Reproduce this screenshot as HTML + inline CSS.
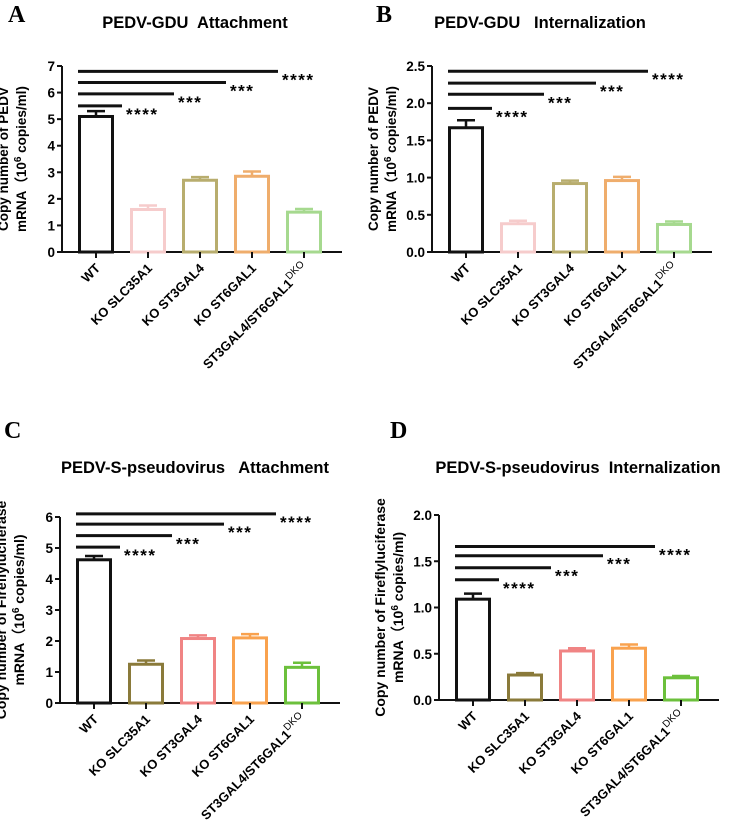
<!DOCTYPE html>
<html><head><meta charset="utf-8">
<style>
body{margin:0;background:#fff;}
svg{display:block;font-family:"Liberation Sans",Arial,sans-serif;}
svg text{white-space:pre;}
.t{font-weight:bold;}
</style></head>
<body>
<svg id="fig" width="735" height="830" viewBox="0 0 735 830"></svg>
<script>
const categories = ["WT","KO SLC35A1","KO ST3GAL4","KO ST6GAL1","ST3GAL4/ST6GAL1"];
const valuesA = [5.1,1.6,2.7,2.85,1.5];
const errorsA = [0.2,0.15,0.12,0.18,0.12];
const sigA = [5.5,5.95,6.38,6.8];
const ticksA = [0,1,2,3,4,5,6,7];
const valuesB = [1.67,0.38,0.92,0.96,0.37];
const errorsB = [0.1,0.04,0.04,0.05,0.04];
const sigB = [1.93,2.12,2.27,2.43];
const ticksB = [0,0.5,1.0,1.5,2.0,2.5];
const valuesC = [4.62,1.25,2.08,2.1,1.15];
const errorsC = [0.12,0.12,0.1,0.12,0.15];
const sigC = [5.03,5.4,5.77,6.1];
const ticksC = [0,1,2,3,4,5,6];
const valuesD = [1.09,0.27,0.53,0.56,0.24];
const errorsD = [0.06,0.02,0.03,0.04,0.02];
const sigD = [1.3,1.43,1.56,1.66];
const ticksD = [0,0.5,1.0,1.5,2.0];
const sigLabels = ["****","***","***","****"];

const NS="http://www.w3.org/2000/svg";
const svg=document.getElementById('fig');
function mk(tag,attrs,parent,text){
  const e=document.createElementNS(NS,tag);
  for(const k in attrs)e.setAttribute(k,attrs[k]);
  if(text!==undefined)e.textContent=text;
  (parent||svg).appendChild(e);return e;
}
function panel(o){
  const g=mk('g',{});
  
  
  const ymax=o.ticks[o.ticks.length-1];
  const y=v=>o.y0-(v/ymax)*(o.y0-o.ytop);
  const x=i=>o.x0+34+i*52;
  const L=mk('text',{x:o.lx,y:o.ly,'font-family':'Liberation Serif,serif','font-size':24,'font-weight':'bold'},g,o.letter);
  
  
  const T=mk('text',{x:o.tx,y:o.ty,'text-anchor':'middle','font-size':16.5,class:'t'},g,o.title);
  
  
  const yt=mk('text',{transform:`translate(${o.x0-45},${(o.y0+o.ytop)/2}) rotate(-90)`,'text-anchor':'middle','font-size':o.yfs,class:'t'},g);
  
  
  mk('tspan',{x:0,dy:-9},yt,o.ylab1);
  mk('tspan',{x:0,dy:18},yt,'mRNA（10');
  mk('tspan',{dy:-5,'font-size':10},yt,'6');
  mk('tspan',{dy:5},yt,' copies/ml)');
  const ax=mk('path',{d:`M${o.x0},${o.ytop} V${o.y0} H${o.x0+280}`,stroke:'#111','stroke-width':2,fill:'none'},g);
  
  
  o.ticks.forEach(t=>{
    mk('line',{x1:o.x0-5,x2:o.x0,y1:y(t),y2:y(t),stroke:'#111','stroke-width':2},g);
    const tl=mk('text',{x:o.x0-7,y:y(t)+5,'text-anchor':'end','font-size':13.5,class:'t'},g,o.dec?t.toFixed(1):t);
    
    
  });
  o.vals.forEach((v,i)=>{
    const cx=x(i),w=33;
    const bar=mk('rect',{x:cx-w/2,y:y(v),width:w,height:o.y0-y(v),fill:'none',stroke:o.colors[i],'stroke-width':3},g);
    
    
    mk('path',{d:`M${cx},${y(v)} V${y(v+o.errs[i])} M${cx-9},${y(v+o.errs[i])} H${cx+9}`,stroke:o.colors[i],'stroke-width':2.5,fill:'none'},g);
    mk('line',{x1:cx,x2:cx,y1:o.y0,y2:o.y0+6,stroke:'#111','stroke-width':2},g);
    const lab=mk('text',{transform:`translate(${cx+5},${o.y0+17}) rotate(-45)`,'text-anchor':'end','font-size':13,class:'t'},g,categories[i]);
    
    
    if(i===4){mk('tspan',{dy:-6,'font-size':10,'font-weight':'normal'},lab,'DKO');}
  });
  o.sig.forEach((s,k)=>{
    const ln=mk('line',{x1:x(0)-18,x2:x(0)+26+k*52,y1:y(s),y2:y(s),stroke:'#111','stroke-width':3},g);
    
    
    const st=mk('text',{x:x(0)+30+k*52,y:y(s)+14,'font-size':17,class:'t','letter-spacing':'1.5'},g,sigLabels[k]);
    
    
  });
}
const c1=['#111','#f6cccc','#b8ad6e','#efad6c','#a6d98f'];
const c2=['#111','#8a7a3a','#f08484','#f9a24e','#6cc03c'];
panel({letter:'A',lx:8,ly:22,tx:195,ty:28,title:'PEDV-GDU  Attachment',x0:62,y0:252,ytop:66,ticks:ticksA,dec:false,vals:valuesA,errs:errorsA,sig:sigA,colors:c1,ylab1:'Copy number of PEDV',yfs:13.5});
panel({letter:'B',lx:376,ly:22,tx:540,ty:28,title:'PEDV-GDU   Internalization',x0:432,y0:252,ytop:66,ticks:ticksB,dec:true,vals:valuesB,errs:errorsB,sig:sigB,colors:c1,ylab1:'Copy number of PEDV',yfs:13.5});
panel({letter:'C',lx:4,ly:438,tx:195,ty:473,title:'PEDV-S-pseudovirus   Attachment',x0:60,y0:703,ytop:517,ticks:ticksC,dec:false,vals:valuesC,errs:errorsC,sig:sigC,colors:c2,ylab1:'Copy number of Fireflyluciferase',yfs:14});
panel({letter:'D',lx:390,ly:438,tx:578,ty:473,title:'PEDV-S-pseudovirus  Internalization',x0:439,y0:700,ytop:515,ticks:ticksD,dec:true,vals:valuesD,errs:errorsD,sig:sigD,colors:c2,ylab1:'Copy number of Fireflyluciferase',yfs:14});
</script>
</body></html>
